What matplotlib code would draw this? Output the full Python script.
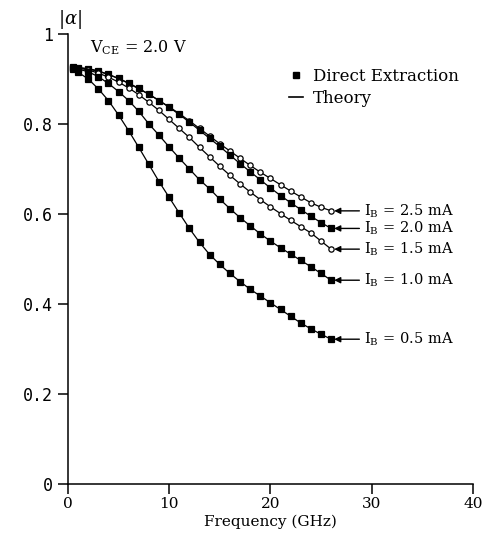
import matplotlib.pyplot as plt
from matplotlib.lines import Line2D

plt.rcParams['mathtext.fontset'] = 'dejavuserif'

# frequency points (GHz)
freq = [0.5, 1, 2, 3, 4, 5, 6, 7, 8, 9, 10, 11, 12, 13, 14, 15, 16, 17, 18,
        19, 20, 21, 22, 23, 24, 25, 26]

# |alpha| for each base current
alpha_05 = [0.922, 0.915, 0.900, 0.878, 0.852, 0.820, 0.785, 0.748, 0.710, 0.672,
            0.637, 0.602, 0.568, 0.537, 0.510, 0.488, 0.468, 0.450, 0.433, 0.418,
            0.403, 0.388, 0.373, 0.358, 0.345, 0.333, 0.322]
alpha_10 = [0.925, 0.922, 0.916, 0.905, 0.890, 0.872, 0.852, 0.828, 0.800, 0.775,
            0.749, 0.724, 0.700, 0.676, 0.656, 0.633, 0.612, 0.592, 0.574, 0.556,
            0.540, 0.525, 0.511, 0.497, 0.483, 0.468, 0.453]
alpha_15 = [0.925, 0.924, 0.920, 0.913, 0.904, 0.893, 0.880, 0.865, 0.848, 0.830,
            0.810, 0.790, 0.770, 0.748, 0.727, 0.706, 0.686, 0.667, 0.649, 0.632,
            0.616, 0.601, 0.586, 0.572, 0.558, 0.540, 0.522]
alpha_20 = [0.926, 0.925, 0.922, 0.917, 0.910, 0.901, 0.891, 0.879, 0.866, 0.852,
            0.837, 0.821, 0.804, 0.786, 0.768, 0.750, 0.731, 0.712, 0.694, 0.676,
            0.658, 0.641, 0.625, 0.610, 0.595, 0.581, 0.568]
alpha_25 = [0.926, 0.925, 0.923, 0.918, 0.910, 0.901, 0.890, 0.878, 0.866, 0.852,
            0.838, 0.823, 0.807, 0.790, 0.773, 0.756, 0.740, 0.724, 0.708, 0.693,
            0.679, 0.665, 0.651, 0.638, 0.625, 0.615, 0.607]

series = [
    (alpha_25, 'o', 'white', 'I$_\\mathrm{B}$ = 2.5 mA'),
    (alpha_20, 's', 'black', 'I$_\\mathrm{B}$ = 2.0 mA'),
    (alpha_15, 'o', 'white', 'I$_\\mathrm{B}$ = 1.5 mA'),
    (alpha_10, 's', 'black', 'I$_\\mathrm{B}$ = 1.0 mA'),
    (alpha_05, 's', 'black', 'I$_\\mathrm{B}$ = 0.5 mA'),
]

fig = plt.figure(figsize=(4.85, 5.38), dpi=100)
ax = fig.add_axes([0.140, 0.100, 0.835, 0.837])

for vals, mk, fc, lab in series:
    ax.plot(freq, vals, color='black', lw=0.9, marker=mk, markersize=3.8,
            markerfacecolor=fc, markeredgecolor='black', markeredgewidth=0.9)
    ax.annotate(lab, xy=(freq[-1] + 0.3, vals[-1]), xytext=(29.2, vals[-1]),
                ha='left', va='center', fontsize=10.5, family='DejaVu Serif',
                arrowprops=dict(arrowstyle='-|>', color='black', lw=1.0,
                                mutation_scale=9, shrinkA=1, shrinkB=0))

ax.set_xlim(0, 40)
ax.set_ylim(0, 1)
ax.set_xticks([0, 10, 20, 30, 40])
ax.set_yticks([0, 0.2, 0.4, 0.6, 0.8, 1])
ax.set_yticklabels(['0', '0.2', '0.4', '0.6', '0.8', '1'])
for s in ['top', 'right']:
    ax.spines[s].set_visible(False)
for s in ['left', 'bottom']:
    ax.spines[s].set_linewidth(1.1)
ax.tick_params(direction='out', length=7, width=1.1, pad=4)
ax.tick_params(axis='x', pad=2)
for t in ax.get_yticklabels():
    t.set_family('DejaVu Sans Mono')
    t.set_fontsize(12)
for t in ax.get_xticklabels():
    t.set_family('DejaVu Serif')
    t.set_fontsize(11)

ax.set_xlabel('Frequency (GHz)', family='DejaVu Serif', fontsize=11, labelpad=3)
ax.text(0.006, 1.031, r'$|\alpha|$', transform=ax.transAxes, fontsize=13,
        ha='center', va='center')
ax.text(2.2, 0.969, 'V$_\\mathrm{CE}$ = 2.0 V', family='DejaVu Serif',
        fontsize=11.5, ha='left', va='center')

handles = [Line2D([], [], color='black', marker='s', linestyle='none', markersize=4),
           Line2D([], [], color='black', lw=1.2)]
ax.legend(handles, ['Direct Extraction', 'Theory'], loc='upper left',
          bbox_to_anchor=(0.51, 0.958), frameon=False, handlelength=0.8,
          handletextpad=0.6, labelspacing=0.3,
          prop={'family': 'DejaVu Serif', 'size': 12})

plt.savefig('out.png', dpi=100)
